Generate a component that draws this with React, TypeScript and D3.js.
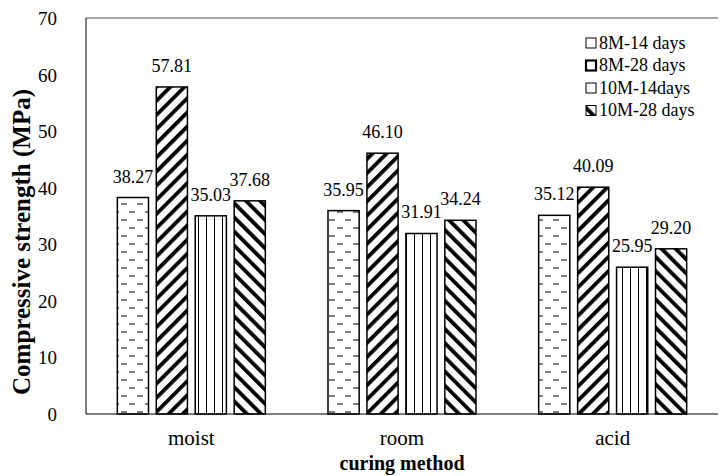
import React from 'react';
import * as d3 from 'd3';

const categories = ['moist', 'room', 'acid'];
const seriesNames = ['8M-14 days', '8M-28 days', '10M-14days', '10M-28 days'];
const s8m14 = [38.27, 35.95, 35.12];
const s8m28 = [57.81, 46.1, 40.09];
const s10m14 = [35.03, 31.91, 25.95];
const s10m28 = [37.68, 34.24, 29.2];
const yTicks = [0, 10, 20, 30, 40, 50, 60, 70];

const seriesValues = [s8m14, s8m28, s10m14, s10m28];
const patternIds = ['pDash', 'pUp', 'pVert', 'pDown'];

const W = 720;
const H = 476;
const left = 86, right = 718, top = 18, bottom = 414;
const font = "'Liberation Serif', 'DejaVu Serif', serif";

export default function App() {
  const y = d3.scaleLinear().domain([0, 70]).range([bottom, top]);
  const x0 = d3.scaleBand().domain(categories).range([left, right]).padding(0);
  const groupW = 148;
  const x1 = d3.scaleBand().domain(seriesNames).range([0, groupW]).paddingInner(0.2);
  const fmt = d3.format('.2f');

  return (
    <div style={{ position: 'absolute', left: 0, top: 0, fontFamily: font }}>
      <svg width={W} height={H} style={{ display: 'block', background: '#fff', fontFamily: font }}>
        <defs>
          <pattern id="pDash" width="16" height="16" patternUnits="userSpaceOnUse">
            <rect width="16" height="16" fill="#fff" />
            <line x1="1" x2="7" y1="4" y2="4" stroke="#000" strokeWidth="1" />
            <line x1="9" x2="15" y1="12" y2="12" stroke="#000" strokeWidth="1" />
          </pattern>
          <pattern id="pUp" width="10" height="10" patternUnits="userSpaceOnUse" patternTransform="rotate(45)">
            <rect width="10" height="10" fill="#fff" />
            <rect x="0" y="0" width="3.8" height="10" fill="#000" />
          </pattern>
          <pattern id="pDown" width="10" height="10" patternUnits="userSpaceOnUse" patternTransform="rotate(-45)">
            <rect width="10" height="10" fill="#fff" />
            <rect x="0" y="0" width="3.8" height="10" fill="#000" />
          </pattern>
          <pattern id="pVert" width="8" height="8" patternUnits="userSpaceOnUse">
            <rect width="8" height="8" fill="#fff" />
            <line x1="6.5" x2="6.5" y1="0" y2="8" stroke="#000" strokeWidth="1" />
          </pattern>
        </defs>

        {/* frame */}
        <line x1={left} x2={right} y1={top} y2={top} stroke="#555" strokeWidth={1} />
        <line x1={left} x2={left} y1={top} y2={bottom} stroke="#000" strokeWidth={1} />

        {yTicks.map((t) => (
          <text key={t} x={57} y={y(t) + 7} textAnchor="end" fontSize={19} fill="#000">
            {t}
          </text>
        ))}

        {categories.map((c, ci) => {
          const gx = (x0(c) as number) + (x0.bandwidth() - groupW) / 2;
          return (
            <g key={c}>
              {seriesNames.map((s, si) => {
                const v = seriesValues[si][ci];
                const bx = gx + (x1(s) as number);
                const bw = x1.bandwidth();
                return (
                  <g key={s}>
                    <rect x={bx} y={y(v)} width={bw} height={bottom - y(v)} fill={`url(#${patternIds[si]})`} stroke="#000" strokeWidth={1.5} />
                    <text x={bx + bw / 2} y={y(v) - 15} textAnchor="middle" fontSize={18} fill="#000">
                      {fmt(v)}
                    </text>
                  </g>
                );
              })}
              <text x={(x0(c) as number) + x0.bandwidth() / 2} y={445} textAnchor="middle" fontSize={21} fill="#000">
                {c}
              </text>
            </g>
          );
        })}

        <line x1={left} x2={right} y1={bottom} y2={bottom} stroke="#000" strokeWidth={1.2} />

        <text x={402} y={470} textAnchor="middle" fontSize={20} fontWeight="bold" fill="#000">
          curing method
        </text>
        <text transform={`translate(30,242) rotate(-90)`} textAnchor="middle" fontSize={25} fontWeight="bold" fill="#000">
          Compressive strength (MPa)
        </text>

        {seriesNames.map((s, si) => (
          <g key={s} transform={`translate(586,${43 + si * 22.5})`}>
            <rect x={0} y={-5} width={10} height={10} fill={si === 3 ? 'url(#pDown)' : '#fff'} stroke="#000" strokeWidth={si === 1 ? 2.2 : 1} />
            <text x={13} y={5.5} fontSize={18} fill="#000">
              {s}
            </text>
          </g>
        ))}
      </svg>
    </div>
  );
}
